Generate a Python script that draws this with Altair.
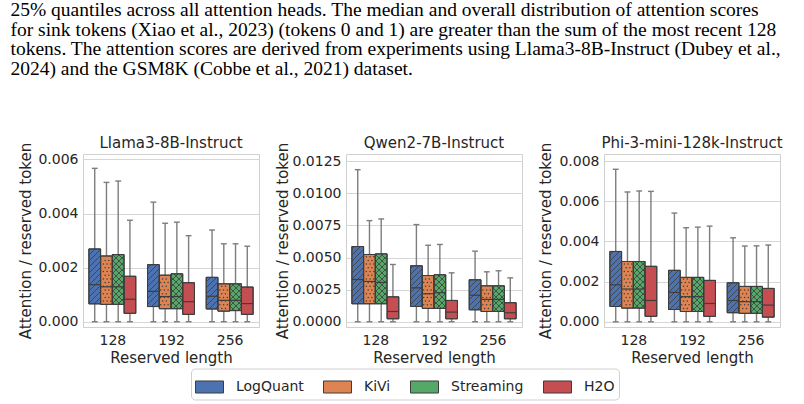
import math
import altair as alt
import pandas as pd

# ---------------- data ----------------
caption_lines = [
    "25% quantiles across all attention heads.  The median and overall distribution of attention scores",
    "for sink tokens (Xiao et al., 2023) (tokens 0 and 1) are greater than the sum of the most recent 128",
    "tokens. The attention scores are derived from experiments using Llama3-8B-Instruct (Dubey et al.,",
    "2024) and the GSM8K (Cobbe et al., 2021) dataset.",
]
models = ["Llama3-8B-Instruct", "Qwen2-7B-Instruct", "Phi-3-mini-128k-Instruct"]
lengths = ["128", "192", "256"]
methods = ["LogQuant", "KiVi", "Streaming", "H2O"]
colors = ["#4C72B0", "#DD8452", "#55A868", "#C44E52"]
hatches = ["/", ".", "x", ""]

# order: for each length (128,192,256): LogQuant, KiVi, Streaming, H2O
llama_hi = [0.00567, 0.00515, 0.00520, 0.00375, 0.00442, 0.00364, 0.00368, 0.00318, 0.00339, 0.00288, 0.00288, 0.00279]
llama_q3 = [0.00269, 0.00243, 0.00248, 0.00168, 0.00211, 0.00172, 0.00177, 0.00144, 0.00164, 0.00140, 0.00140, 0.00128]
llama_med = [0.00137, 0.00129, 0.00129, 0.00083, 0.00112, 0.00093, 0.00093, 0.00074, 0.00094, 0.00079, 0.00079, 0.00067]
llama_q1 = [0.00066, 0.00064, 0.00064, 0.00031, 0.00056, 0.00048, 0.00048, 0.00027, 0.00047, 0.00039, 0.00041, 0.00027]
llama_lo = [0.0] * 12

qwen_hi = [0.01185, 0.00788, 0.00801, 0.00446, 0.00757, 0.00596, 0.00602, 0.00381, 0.00550, 0.00389, 0.00397, 0.00342]
qwen_q3 = [0.00586, 0.00524, 0.00529, 0.00194, 0.00436, 0.00360, 0.00366, 0.00166, 0.00327, 0.00280, 0.00280, 0.00148]
qwen_med = [0.00329, 0.00314, 0.00306, 0.00080, 0.00264, 0.00218, 0.00226, 0.00075, 0.00207, 0.00174, 0.00174, 0.00070]
qwen_q1 = [0.00140, 0.00140, 0.00140, 0.00023, 0.00119, 0.00104, 0.00104, 0.00023, 0.00093, 0.00080, 0.00080, 0.00023]
qwen_lo = [0.0] * 12

phi_hi = [0.00759, 0.00646, 0.00651, 0.00649, 0.00541, 0.00468, 0.00471, 0.00476, 0.00418, 0.00377, 0.00378, 0.00382]
phi_q3 = [0.00350, 0.00300, 0.00300, 0.00276, 0.00256, 0.00221, 0.00221, 0.00206, 0.00194, 0.00176, 0.00176, 0.00166]
phi_med = [0.00184, 0.00163, 0.00163, 0.00106, 0.00146, 0.00125, 0.00125, 0.00091, 0.00106, 0.00100, 0.00100, 0.00083]
phi_q1 = [0.00076, 0.00068, 0.00068, 0.00027, 0.00061, 0.00051, 0.00051, 0.00027, 0.00045, 0.00042, 0.00042, 0.00023]
phi_lo = [0.0] * 12

y_domains = [[-0.000196, 0.0062], [-0.00041, 0.01307], [-0.00026, 0.00835]]
y_ticks = [[0, 0.002, 0.004, 0.006], [0, 0.0025, 0.005, 0.0075, 0.01, 0.0125], [0, 0.002, 0.004, 0.006, 0.008]]
y_formats = [".3f", ".4f", ".3f"]
y_title_x = [-50, -56, -51]

# ---------------- style ----------------
PW, PH = 176, 173
XDOM = [-0.5, 2.5]
BOXW = 0.2
TEXT = "#262626"
EDGE = "#3d3d3d"
WHISK = "#7d7d7d"
GRID = "#d6d6d6"
HATCH_STEP = 6.0
DOT_STEP = 3.7


def hatch_segments(x0, x1, y0, y1, sx, sy, ymin, slope):
    X0, X1 = (x0 - XDOM[0]) * sx, (x1 - XDOM[0]) * sx
    Y0, Y1 = (y0 - ymin) * sy, (y1 - ymin) * sy
    segs = []
    if slope > 0:
        cmin, cmax = Y0 - X1, Y1 - X0
        for k in range(math.ceil(cmin / HATCH_STEP), math.floor(cmax / HATCH_STEP) + 1):
            c = k * HATCH_STEP
            pa, pb = max(X0, Y0 - c), min(X1, Y1 - c)
            if pb - pa > 0.4:
                segs.append((pa, pa + c, pb, pb + c))
    else:
        cmin, cmax = Y0 + X0, Y1 + X1
        for k in range(math.ceil(cmin / HATCH_STEP), math.floor(cmax / HATCH_STEP) + 1):
            c = k * HATCH_STEP
            pa, pb = max(X0, c - Y1), min(X1, c - Y0)
            if pb - pa > 0.4:
                segs.append((pa, c - pa, pb, c - pb))
    return [(a / sx + XDOM[0], b / sy + ymin, cc / sx + XDOM[0], d / sy + ymin) for a, b, cc, d in segs]


def dot_points(x0, x1, y0, y1, sx, sy, ymin):
    X0, X1 = (x0 - XDOM[0]) * sx, (x1 - XDOM[0]) * sx
    Y0, Y1 = (y0 - ymin) * sy, (y1 - ymin) * sy
    pts = []
    for r in range(math.ceil((Y0 + 1.2) / DOT_STEP), math.floor((Y1 - 1.2) / DOT_STEP) + 1):
        py = r * DOT_STEP
        off = (r % 2) * DOT_STEP / 2
        for k in range(math.ceil((X0 + 1.2 - off) / DOT_STEP), math.floor((X1 - 1.2 - off) / DOT_STEP) + 1):
            px = k * DOT_STEP + off
            pts.append((px / sx + XDOM[0], py / sy + ymin))
    return pts


color_scale = alt.Scale(domain=methods, range=colors)
legend = alt.Legend(
    orient="none", legendX=108, legendY=214.5, direction="horizontal", columns=4, title=None,
    symbolType="M-1,-0.43H1V0.43H-1Z", symbolSize=784, symbolStrokeColor=EDGE, symbolStrokeWidth=1,
    symbolOpacity=1, labelFontSize=14, labelColor=TEXT, labelOffset=12, columnPadding=17,
    strokeColor="#d0d0d0", cornerRadius=4, padding=4, fillColor="white", gridAlign="none",
)


def panel(idx, hi, q3, med, q1, lo):
    ydom = y_domains[idx]
    sx = PW / (XDOM[1] - XDOM[0])
    sy = PH / (ydom[1] - ydom[0])
    rows, hl, dots = [], [], []
    for i, L in enumerate(lengths):
        for j, m in enumerate(methods):
            n = i * 4 + j
            xc = i + (j - 1.5) * BOXW
            rows.append(dict(length=L, method=m, xc=xc, x0=xc - BOXW / 2, x1=xc + BOXW / 2,
                             c0=xc - BOXW / 4, c1=xc + BOXW / 4,
                             hi=hi[n], q3=q3[n], med=med[n], q1=q1[n], lo=lo[n]))
            h = hatches[j]
            if h in ("/", "x"):
                for s in hatch_segments(xc - BOXW / 2, xc + BOXW / 2, q1[n], q3[n], sx, sy, ydom[0], 1):
                    hl.append(dict(x=s[0], y=s[1], x2=s[2], y2=s[3]))
            if h == "x":
                for s in hatch_segments(xc - BOXW / 2, xc + BOXW / 2, q1[n], q3[n], sx, sy, ydom[0], -1):
                    hl.append(dict(x=s[0], y=s[1], x2=s[2], y2=s[3]))
            if h == ".":
                for p in dot_points(xc - BOXW / 2, xc + BOXW / 2, q1[n], q3[n], sx, sy, ydom[0]):
                    dots.append(dict(x=p[0], y=p[1]))
    df = pd.DataFrame(rows)
    hdf = pd.DataFrame(hl)
    ddf = pd.DataFrame(dots)

    label_expr = "[" + ",".join("'%s'" % L for L in lengths) + "][datum.value]"
    xsc = alt.Scale(domain=XDOM, nice=False, zero=False)
    ysc = alt.Scale(domain=ydom, nice=False, zero=False)
    xax = alt.Axis(values=[0, 1, 2], labelExpr=label_expr, title="Reserved length", grid=False,
                   labelPadding=6, titlePadding=3)
    yax = alt.Axis(values=y_ticks[idx], format=y_formats[idx], title="Attention / reserved token",
                   labelPadding=5, titleX=y_title_x[idx], labelOverlap=False, tickCount=len(y_ticks[idx]))

    def X(f):
        return alt.X(f, type="quantitative", scale=xsc, axis=xax)

    def Y(f):
        return alt.Y(f, type="quantitative", scale=ysc, axis=yax)

    base = alt.Chart(df)
    whisk = base.mark_rule(color=WHISK, strokeWidth=1.4).encode(x=X("xc"), y=Y("lo"), y2="hi:Q")
    cap_hi = base.mark_rule(color=WHISK, strokeWidth=1.4).encode(x=X("c0"), x2="c1:Q", y=Y("hi"))
    cap_lo = base.mark_rule(color=WHISK, strokeWidth=1.4).encode(x=X("c0"), x2="c1:Q", y=Y("lo"))
    box = base.mark_rect(stroke=EDGE, strokeWidth=1).encode(
        x=X("x0"), x2="x1:Q", y=Y("q1"), y2="q3:Q",
        fill=alt.Fill("method:N", scale=color_scale, legend=legend),
    )
    hatch = alt.Chart(hdf).mark_rule(color=EDGE, strokeWidth=0.8).encode(
        x=X("x"), x2="x2:Q", y=Y("y"), y2="y2:Q")
    dotm = alt.Chart(ddf).mark_circle(color=EDGE, size=2.2, opacity=1).encode(x=X("x"), y=Y("y"))
    outline = base.mark_rect(fill=None, stroke=EDGE, strokeWidth=1).encode(
        x=X("x0"), x2="x1:Q", y=Y("q1"), y2="q3:Q")
    median = base.mark_rule(color=EDGE, strokeWidth=1.2).encode(x=X("x0"), x2="x1:Q", y=Y("med"))

    return alt.layer(whisk, cap_hi, cap_lo, box, hatch, dotm, outline, median).properties(
        width=PW, height=PH,
        title=alt.TitleParams(models[idx], fontSize=15, fontWeight="normal", color=TEXT, frame="group", offset=-9),
    )


p1 = panel(0, llama_hi, llama_q3, llama_med, llama_q1, llama_lo)
p2 = panel(1, qwen_hi, qwen_q3, qwen_med, qwen_q1, qwen_lo)
p3 = panel(2, phi_hi, phi_q3, phi_med, phi_q1, phi_lo)

chart = alt.hconcat(p1, p2, p3, spacing=14).properties(
    title=alt.TitleParams(caption_lines, anchor="start", font="Liberation Serif", fontSize=19.5,
                          fontWeight="normal", color="black", lineHeight=19.5, dx=-7, offset=56.5),
    padding={"left": 10, "top": 0, "right": 2, "bottom": 2},
).configure(font="DejaVu Sans").configure_view(
    stroke="#d0d0d0", strokeWidth=1
).configure_axis(
    labelFontSize=14, titleFontSize=15, titleFontWeight="normal", labelColor=TEXT, titleColor=TEXT,
    domain=False, ticks=False, tickSize=0, gridColor=GRID, gridWidth=1,
)

chart.save("out.html", embed_options={"renderer": "svg", "actions": False})
